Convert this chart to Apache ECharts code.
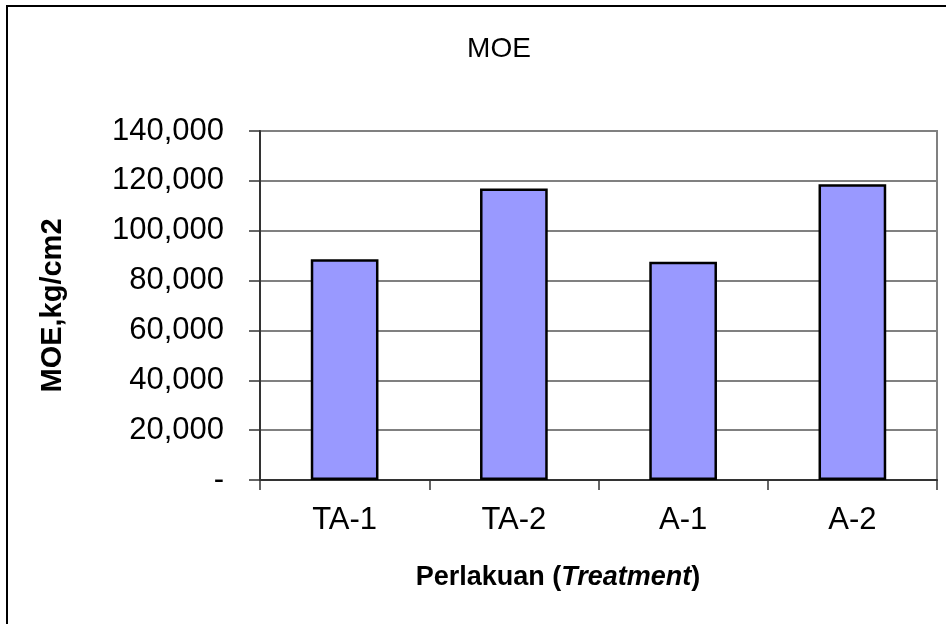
<!DOCTYPE html>
<html>
<head>
<meta charset="utf-8">
<script src="https://cdn.jsdelivr.net/npm/echarts@6/dist/echarts.min.js"></script>
<style>html,body{margin:0;padding:0;background:#fff}#c{width:946px;height:624px}</style>
</head>
<body>
<div id="c"></div>
<script>
var categories = ['TA-1', 'TA-2', 'A-1', 'A-2'];
var moeValues = [88600, 116900, 87600, 118600];
var yTicks = [0, 20000, 40000, 60000, 80000, 100000, 120000, 140000];

var chart = echarts.init(document.getElementById('c'));
var font = 'Liberation Sans, Arial, sans-serif';
chart.setOption({
  animation: false,
  backgroundColor: '#fff',
  title: [
    { text: 'MOE', left: 494, top: 30, textAlign: 'center',
      textStyle: { fontFamily: font, fontSize: 28, fontWeight: 'normal', color: '#000' } },
    { text: '{b|Perlakuan (}{bi|Treatment}{b|)}', left: 553, top: 559, textAlign: 'center',
      textStyle: { rich: {
        b: { fontFamily: font, fontSize: 27, fontWeight: 'bold', color: '#000' },
        bi: { fontFamily: font, fontSize: 27, fontWeight: 'bold', fontStyle: 'italic', color: '#000' }
      } } }
  ],
  graphic: [
    { type: 'rect', shape: { x: 7, y: 6, width: 1000, height: 1000 },
      style: { fill: 'none', stroke: '#000', lineWidth: 2 }, silent: true }
  ],
  grid: { left: 260, right: 9, top: 131, bottom: 144, show: true, borderColor: '#808080', borderWidth: 2, backgroundColor: 'transparent' },
  xAxis: {
    type: 'category',
    data: categories,
    axisLine: { lineStyle: { color: '#333', width: 2 } },
    axisTick: { show: true, alignWithLabel: false, length: 10, lineStyle: { color: '#333', width: 1.5 } },
    axisLabel: { fontFamily: font, fontSize: 31, color: '#000', margin: 25 }
  },
  yAxis: {
    type: 'value',
    min: yTicks[0],
    max: yTicks[yTicks.length - 1],
    interval: yTicks[1] - yTicks[0],
    name: 'MOE,kg/cm2',
    nameLocation: 'middle',
    nameGap: 193,
    nameTextStyle: { fontFamily: font, fontSize: 29, fontWeight: 'bold', color: '#000' },
    axisLine: { show: true, lineStyle: { color: '#333', width: 2 } },
    axisTick: { show: true, length: 11, lineStyle: { color: '#333', width: 1.5 } },
    splitLine: { show: true, lineStyle: { color: '#808080', width: 2 } },
    axisLabel: {
      fontFamily: font, fontSize: 31, color: '#000', margin: 36,
      formatter: function (v) { return v === 0 ? '-' : v.toLocaleString('en-US'); }
    }
  },
  series: [{
    type: 'bar',
    data: moeValues,
    barWidth: '40%',
    itemStyle: { color: '#9999FF', borderColor: '#000', borderWidth: 2.5 }
  }]
});
</script>
</body>
</html>
